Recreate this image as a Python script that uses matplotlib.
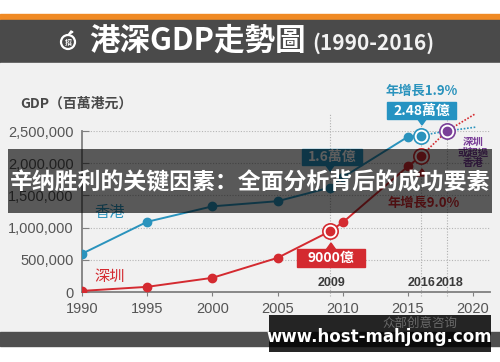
import numpy as np
import matplotlib
matplotlib.use('Agg')
import matplotlib.pyplot as plt
from matplotlib.patches import Rectangle, Polygon, Circle

plt.rcParams['font.family'] = ['Noto Sans CJK TC', 'DejaVu Sans']

# data (millions HKD)
hk_years = [1990, 1995, 2000, 2005, 2009, 2010, 2015, 2016]
hk_gdp = [594000, 1090000, 1330000, 1410000, 1620000, 1780000, 2410000, 2430000]
sz_years = [1990, 1995, 2000, 2005, 2009, 2010, 2015, 2016]
sz_gdp = [17000, 80000, 220000, 530000, 940000, 1080000, 1950000, 2110000]
proj_years = [2016, 2018, 2020.2]
hk_proj = [2430000, 2500000, 2560000]
sz_proj = [2110000, 2500000, 2770000]
xticks = [1990, 1995, 2000, 2005, 2010, 2015, 2020]
yticks = [0, 500000, 1000000, 1500000, 2000000, 2500000]
mark_years = [2009, 2016, 2018]

BLUE = '#2a93bd'
RED = '#d42a30'
PURPLE = '#7a3f98'
W, H = 500, 362

fig = plt.figure(figsize=(5, 3.62), dpi=100)

# background / decoration layer in pixel coordinates
bg = fig.add_axes([0, 0, 1, 1], zorder=-1)
bg.set_xlim(0, W); bg.set_ylim(H, 0); bg.axis('off')
bg.add_patch(Rectangle((0, 0), W, H, color='white'))
bg.add_patch(Rectangle((0, 14), W, 6, color='#f08a24'))
bg.add_patch(Rectangle((0, 20), W, 43, color='#4a4a4a'))
bg.add_patch(Rectangle((0, 63), W, 269, color='#f1f1f1'))
bg.add_patch(Rectangle((0, 332), W, 14, color='#4f4f4f'))
bg.add_patch(Circle((68, 42), 7, fill=False, ec='white', lw=1.6))
bg.add_patch(Polygon([(68, 35), (71, 31), (73, 32)], color='white'))
bg.text(68, 42.5, '招', color='white', fontsize=5, ha='center', va='center', fontweight='bold')
bg.text(89, 41, '港深GDP走勢圖', color='white', fontsize=22, fontweight='heavy', va='center', ha='left')
bg.text(312, 43, '(1990-2016)', color='#f2f2f2', fontsize=15, fontweight='bold', va='center', ha='left')
bg.text(20, 104, 'GDP（百萬港元）', color='#484848', fontsize=10, fontweight='bold', va='center', ha='left')

# chart axes
ax = fig.add_axes([82 / W, (H - 292) / H, 408 / W, 161 / H])
ax.set_facecolor('none')
ax.set_xlim(1990, 2021.3)
ax.set_ylim(0, 2500000)
for s in ['top', 'right']:
    ax.spines[s].set_visible(False)
for s in ['left', 'bottom']:
    ax.spines[s].set_color('#808080')
    ax.spines[s].set_linewidth(1.3)
ax.set_xticks(xticks)
ax.set_yticks(yticks)
ax.set_yticklabels([f'{v:,}' for v in yticks], family='Liberation Sans', fontsize=10.5, color='#555555')
ax.set_xticklabels([str(v) for v in xticks], family='Liberation Sans', fontsize=10.5, color='#555555')
ax.tick_params(axis='y', direction='in', length=5, color='#808080', pad=6)
ax.tick_params(axis='x', direction='out', length=3, color='#808080', pad=4)
for v in yticks[1:]:
    ax.axhline(v, color='#b5b5b5', lw=0.8, ls=(0, (1, 1.5)), zorder=0)
for yr in mark_years:
    ax.plot([yr, yr], [-60000, 2780000], color='#b0b0b0', lw=0.8, ls=(0, (1, 1.5)), clip_on=False, zorder=0)

# lines
ax.plot(hk_years, hk_gdp, color=BLUE, lw=1.4, marker='o', ms=6, zorder=3)
ax.plot(sz_years, sz_gdp, color=RED, lw=1.4, marker='o', ms=6, zorder=3)
ax.plot(proj_years, hk_proj, color=BLUE, lw=1.2, ls=(0, (1, 1)), clip_on=False, zorder=2)
ax.plot(proj_years, sz_proj, color=RED, lw=1.2, ls=(0, (1, 1)), clip_on=False, zorder=2)
# rings
for x, y, c in [(2009, sz_gdp[4], RED), (2016, sz_gdp[-1], RED), (2016, hk_gdp[-1], BLUE),
                (2018, sz_proj[1], PURPLE)]:
    ax.plot(x, y, marker='o', ms=11, mfc='white', mec=c, mew=1.2, zorder=4, clip_on=False)
    ax.plot(x, y, marker='o', ms=6, color=c, zorder=5, clip_on=False)

# annotations (pixel layer on top of chart)
ann = fig.add_axes([0, 0, 1, 1], zorder=5)
ann.set_xlim(0, W); ann.set_ylim(H, 0); ann.axis('off'); ann.patch.set_alpha(0)
ann.text(110, 213, '香港', color=BLUE, fontsize=11, ha='center', va='center')
ann.text(110, 276, '深圳', color=RED, fontsize=11, ha='center', va='center')
ann.text(422, 91, '年增長1.9%', color=BLUE, fontsize=9.5, fontweight='bold', ha='center', va='center')
ann.add_patch(Rectangle((387, 102), 69, 17, color='#2693c2'))
ann.add_patch(Polygon([(417, 118), (427, 118), (422, 125)], color='#2693c2'))
ann.text(421.5, 110.5, '2.48萬億', color='white', fontsize=10, fontweight='bold', ha='center', va='center')
ann.add_patch(Rectangle((302, 149), 60, 16, color='#2693c2'))
ann.add_patch(Polygon([(325, 164), (335, 164), (330, 171)], color='#2693c2'))
ann.text(332, 157, '1.6萬億', color='white', fontsize=10, fontweight='bold', ha='center', va='center')
ann.text(473, 142, '深圳', color=PURPLE, fontsize=7.5, fontweight='bold', ha='center', va='center')
ann.text(473, 152.5, '或超過', color=PURPLE, fontsize=7.5, fontweight='bold', ha='center', va='center')
ann.text(473, 163, '香港', color=PURPLE, fontsize=7.5, fontweight='bold', ha='center', va='center')
ann.add_patch(Polygon([(417, 176), (427, 176), (422, 169)], color=RED))
ann.text(424, 203, '年增長9.0%', color=RED, fontsize=9.5, fontweight='bold', ha='center', va='center')
ann.add_patch(Rectangle((297, 249), 68, 18, color=RED))
ann.add_patch(Polygon([(326, 250), (336, 250), (331, 243)], color=RED))
ann.text(331, 258, '9000億', color='white', fontsize=10, fontweight='bold', ha='center', va='center')
for yr, x in zip(mark_years, [331, 422, 450]):
    ann.text(x, 283, str(yr), color='#3a3a3a', fontsize=9, fontweight='bold', ha='center', va='center',
             family='Liberation Sans')

# overlay banner and watermark
top = fig.add_axes([0, 0, 1, 1], zorder=10)
top.set_xlim(0, W); top.set_ylim(H, 0); top.axis('off'); top.patch.set_alpha(0)
top.add_patch(Rectangle((8, 149), 484, 64, color='black', alpha=0.63, lw=0))
top.text(250, 183, '辛纳胜利的关键因素：全面分析背后的成功要素', color='white', fontsize=16.5,
         fontweight='bold', ha='center', va='center', family=['Noto Sans CJK SC', 'DejaVu Sans'])
top.add_patch(Rectangle((269, 315), 222, 37, color='black', alpha=0.85, lw=0))
top.text(420, 323, '众部创意咨询', color='#6a6a6a', fontsize=9, ha='center', va='center',
         family=['Noto Sans CJK SC', 'DejaVu Sans'])
top.text(379, 337, 'www.host-mahjong.com', color='white', fontsize=12, fontweight='bold',
         ha='center', va='center', family='DejaVu Sans')

fig.savefig('out.png', dpi=100)
